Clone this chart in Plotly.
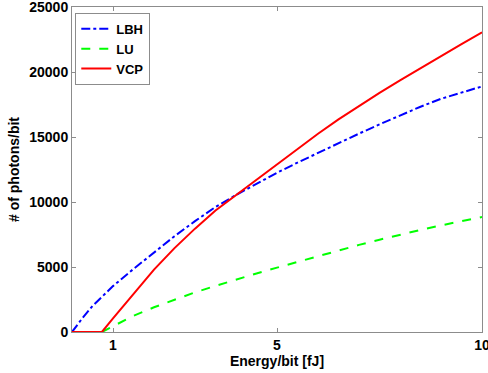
import plotly.graph_objects as go

# Data
lbh_x = [0, 0.25, 0.5, 0.75, 1, 1.5, 2, 2.5, 3, 3.5, 4, 4.5, 5, 5.5, 6, 6.5, 7, 7.5, 8, 8.5, 9, 9.5, 10]
lbh_y = [0, 1050, 2000, 2800, 3530, 4850, 6130, 7370, 8530, 9620, 10540, 11420, 12250, 13030, 13790,
         14540, 15260, 15970, 16680, 17330, 17940, 18420, 18890]

vcp_x = [0, 0.5, 0.73, 1, 1.5, 2, 2.5, 3, 3.5, 4, 4.5, 5, 5.5, 6, 6.5, 7, 7.5, 8, 8.5, 9, 9.5, 10]
vcp_y = [0, 0, 0, 1050, 2950, 4800, 6450, 7950, 9350, 10530, 11750, 12950, 14130, 15250,
         16350, 17400, 18400, 19350, 20300, 21250, 22150, 23050]

lu_x = [0.73, 1, 1.5, 2, 2.5, 3, 3.5, 4, 4.5, 5, 5.5, 6, 6.5, 7, 7.5, 8, 8.5, 9, 9.5, 10]
lu_y = [0, 450, 1250, 1900, 2500, 3050, 3550, 4050, 4500, 4950, 5400, 5850, 6300, 6700,
        7100, 7500, 7850, 8200, 8530, 8850]

x_ticks = [1, 5, 10]
y_ticks = [0, 5000, 10000, 15000, 20000, 25000]

FONT = "Liberation Sans, Arial, sans-serif"

fig = go.Figure()
fig.add_trace(go.Scatter(x=lbh_x, y=lbh_y, mode="lines", name="<b>LBH</b>",
                         line=dict(color="#0000FF", width=2, dash="dashdot")))
fig.add_trace(go.Scatter(x=lu_x, y=lu_y, mode="lines", name="<b>LU</b>",
                         line=dict(color="#00FF00", width=2, dash="dash")))
fig.add_trace(go.Scatter(x=vcp_x, y=vcp_y, mode="lines", name="<b>VCP</b>",
                         line=dict(color="#FF0000", width=2)))

axis_common = dict(
    showline=True, linecolor="#8c8c8c", linewidth=1, mirror="ticks",
    ticks="inside", ticklen=4, tickcolor="#8c8c8c", showgrid=False, zeroline=False,
    ticklabeloverflow="allow", automargin=False,
    tickfont=dict(family=FONT, size=14, color="black", weight="bold"),
)

fig.update_layout(
    width=488, height=373,
    margin=dict(l=72, r=6, t=7, b=41),
    paper_bgcolor="white", plot_bgcolor="white",
    font=dict(family=FONT, size=14, color="black"),
    xaxis=dict(range=[0, 10], tickvals=x_ticks, ticktext=[str(v) for v in x_ticks],
               title=dict(text="<b>Energy/bit [fJ]</b>", font=dict(family=FONT, size=14), standoff=3),
               **axis_common),
    yaxis=dict(range=[0, 25000], tickvals=y_ticks, ticktext=[str(v) for v in y_ticks],
               title=dict(text="<b># of photons/bit</b>", font=dict(family=FONT, size=14), standoff=6),
               **axis_common),
    legend=dict(x=0.008, y=0.982, xanchor="left", yanchor="top",
                bordercolor="#8c8c8c", borderwidth=1, bgcolor="white",
                font=dict(family=FONT, size=13, color="black"),
                tracegroupgap=0, itemwidth=30),
    showlegend=True,
)

fig.write_html("out.html")
